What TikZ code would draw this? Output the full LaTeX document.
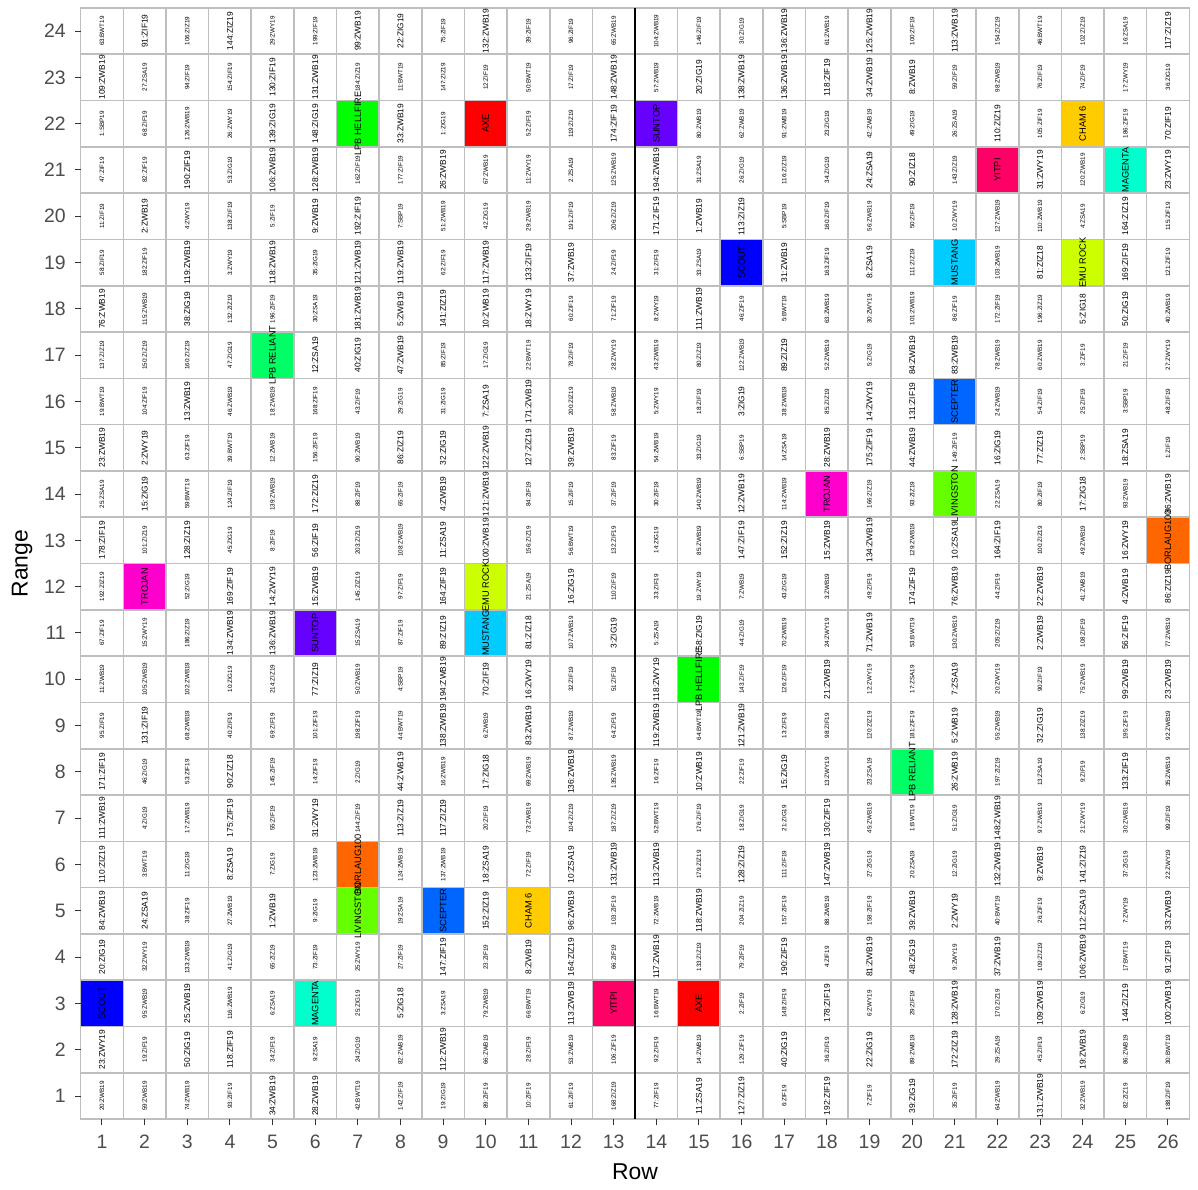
\documentclass[tikz,border=0pt]{standalone}
\usepackage{fontspec}
\setmainfont{Liberation Sans}
\definecolor{tilegrey}{HTML}{BEBEBE}
\definecolor{grey20}{HTML}{333333}
\definecolor{grey30}{HTML}{4D4D4D}
\definecolor{cAXE}{HTML}{FF0000}
\definecolor{cBOR}{HTML}{FF6600}
\definecolor{cCHAM}{HTML}{FFCC00}
\definecolor{cEMU}{HTML}{CCFF00}
\definecolor{cLIV}{HTML}{66FF00}
\definecolor{cHELL}{HTML}{00FF00}
\definecolor{cREL}{HTML}{00FF66}
\definecolor{cMAG}{HTML}{00FFCC}
\definecolor{cMUS}{HTML}{00CCFF}
\definecolor{cSCEP}{HTML}{0066FF}
\definecolor{cSCOUT}{HTML}{0000FF}
\definecolor{cSUN}{HTML}{6600FF}
\definecolor{cTRO}{HTML}{FF00CC}
\definecolor{cYIT}{HTML}{FF0066}
\begin{document}
\begin{tikzpicture}[x=42.64bp, y=46.3bp,
  tile/.style={draw=tilegrey, line width=1.6bp, fill=white},
  lbls/.style={rotate=90, inner sep=0pt, font=\fontsize{6.3}{6}\selectfont},
  lblL/.style={rotate=90, inner sep=0pt, font=\fontsize{8.4}{8}\selectfont},
  lblv/.style={rotate=90, inner sep=0pt, font=\fontsize{9.3}{9}\selectfont},
  tickmark/.style={draw=grey20, line width=1bp},
  ticklab/.style={text=grey30, font=\fontsize{19.5}{20}\selectfont, inner sep=0pt},
  axtitle/.style={font=\fontsize{23}{24}\selectfont, inner sep=0pt}]
\fill[white] (-1.392,-1.0086) rectangle (26.704,24.672);
\useasboundingbox (-1.392,-1.0086) rectangle (26.704,24.672);
% tiles
\foreach \r in {1,...,24}{\foreach \c in {1,...,26}{\path[tile] (\c-0.5,\r-0.5) rectangle (\c+0.5,\r+0.5);}}
\foreach \c/\r/\col in {1/3/cSCOUT,16/19/cSCOUT,2/12/cTRO,18/14/cTRO,5/17/cREL,20/8/cREL,6/11/cSUN,14/22/cSUN,6/3/cMAG,25/21/cMAG,7/22/cHELL,15/10/cHELL,7/5/cLIV,21/14/cLIV,7/6/cBOR,26/13/cBOR,9/5/cSCEP,21/16/cSCEP,10/22/cAXE,15/3/cAXE,10/12/cEMU,24/19/cEMU,10/11/cMUS,21/19/cMUS,11/5/cCHAM,24/22/cCHAM,13/3/cYIT,22/21/cYIT}
  {\path[tile, fill=\col] (\c-0.5,\r-0.5) rectangle (\c+0.5,\r+0.5);}
\draw[line width=2.5bp] (13.5,0.5) -- (13.5,24.5);
% labels
\foreach \sz/\t [count=\c] in {s/63:BWT19, L/91:ZIF19, s/106:ZIZ19, L/144:ZIZ19, s/29:ZWY19, s/199:ZIF19, L/99:ZWB19, L/22:ZIG19, s/75:ZIF19, L/132:ZWB19, s/39:ZIF19, s/96:ZIF19, s/65:ZWB19, s/104:ZWB19, s/146:ZIF19, s/30:ZIG19, L/136:ZWB19, s/61:ZWB19, L/125:ZWB19, s/100:ZIF19, L/113:ZWB19, s/154:ZIZ19, s/46:BWT19, s/102:ZIZ19, s/16:ZSA19, L/117:ZIZ19} \node[lbl\sz] (t\c-24) at (\c,24) {\t};
\foreach \sz/\t [count=\c] in {L/109:ZWB19, s/27:ZSA19, s/94:ZIF19, s/154:ZIF19, L/130:ZIF19, L/131:ZWB19, s/184:ZIZ19, s/11:BWT19, s/147:ZIZ19, s/12:ZIF19, s/50:BWT19, s/17:ZIF19, L/148:ZWB19, s/57:ZWB19, L/20:ZIG19, L/138:ZWB19, L/136:ZWB19, L/118:ZIF19, L/34:ZWB19, L/8:ZWB19, s/59:ZIF19, s/98:ZWB19, s/76:ZIF19, s/74:ZIF19, s/17:ZWY19, s/36:ZIG19} \node[lbl\sz] (t\c-23) at (\c,23) {\t};
\foreach \sz/\t [count=\c] in {s/1:SBP19, s/68:ZIF19, s/126:ZWB19, s/26:ZWY19, L/139:ZIG19, L/148:ZIG19, v/LPB HELLFIRE, L/33:ZWB19, s/1:ZIG19, v/AXE, s/52:ZIF19, s/119:ZIZ19, L/174:ZIF19, v/SUNTOP, s/80:ZWB19, s/62:ZWB19, s/91:ZWB19, s/23:ZIG19, s/42:ZWB19, s/49:ZIG19, s/26:ZSA19, L/110:ZIZ19, s/105:ZIF19, v/CHAM 6, s/186:ZIF19, L/70:ZIF19} \node[lbl\sz] (t\c-22) at (\c,22) {\t};
\foreach \sz/\t [count=\c] in {s/47:ZIF19, s/82:ZIF19, L/190:ZIF19, s/53:ZIG19, L/106:ZWB19, L/128:ZWB19, s/162:ZIF19, s/177:ZIF19, L/26:ZWB19, s/67:ZWB19, s/11:ZWY19, s/2:ZSA19, s/125:ZWB19, L/194:ZWB19, s/31:ZSA19, s/26:ZIG19, s/116:ZIZ19, s/34:ZIG19, L/24:ZSA19, L/90:ZIZ18, s/143:ZIZ19, v/YITPI, L/31:ZWY19, s/120:ZWB19, v/MAGENTA, L/23:ZWY19} \node[lbl\sz] (t\c-21) at (\c,21) {\t};
\foreach \sz/\t [count=\c] in {s/11:ZIF19, L/2:ZWB19, s/4:ZWY19, s/138:ZIF19, s/5:ZIF19, L/9:ZWB19, L/192:ZIF19, s/7:SBP19, s/51:ZWB19, s/42:ZIG19, s/29:ZWB19, s/191:ZIF19, s/206:ZIZ19, L/171:ZIF19, L/1:ZWB19, L/113:ZIZ19, s/5:SBP19, s/160:ZIF19, s/56:ZWB19, s/50:ZIF19, s/10:ZWY19, s/127:ZWB19, s/110:ZWB19, s/4:ZSA19, L/164:ZIZ19, s/115:ZIF19} \node[lbl\sz] (t\c-20) at (\c,20) {\t};
\foreach \sz/\t [count=\c] in {s/58:ZIF19, s/182:ZIF19, L/119:ZWB19, s/3:ZWY19, L/118:ZWB19, s/35:ZIG19, L/121:ZWB19, L/119:ZWB19, s/62:ZIF19, L/117:ZWB19, L/133:ZIF19, L/37:ZWB19, s/24:ZIF19, s/31:ZIF19, s/33:ZSA19, v/SCOUT, L/31:ZWB19, s/163:ZIF19, L/8:ZSA19, s/111:ZIZ19, v/MUSTANG, s/103:ZWB19, L/81:ZIZ18, v/EMU ROCK, L/169:ZIF19, s/121:ZIF19} \node[lbl\sz] (t\c-19) at (\c,19) {\t};
\foreach \sz/\t [count=\c] in {L/76:ZWB19, s/115:ZWB19, L/38:ZIG19, s/132:ZIZ19, s/196:ZIF19, s/30:ZSA19, L/181:ZWB19, L/5:ZWB19, L/141:ZIZ19, L/10:ZWB19, L/18:ZWY19, s/60:ZIF19, s/71:ZIF19, s/8:ZWY19, L/111:ZWB19, s/46:ZIF19, s/5:BWT19, s/63:ZWB19, s/30:ZWY19, s/101:ZWB19, s/86:ZIF19, s/172:ZIF19, s/196:ZIZ19, L/5:ZIG18, L/50:ZIG19, s/40:ZWB19} \node[lbl\sz] (t\c-18) at (\c,18) {\t};
\foreach \sz/\t [count=\c] in {s/137:ZIZ19, s/150:ZIZ19, s/160:ZIZ19, s/47:ZIG19, v/LPB RELIANT, L/12:ZSA19, L/40:ZIG19, L/47:ZWB19, s/85:ZIF19, s/17:ZIG19, s/22:BWT19, s/78:ZIF19, s/28:ZWY19, s/43:ZWB19, s/80:ZIZ19, s/122:ZWB19, L/89:ZIZ19, s/52:ZWB19, s/5:ZIG19, L/84:ZWB19, L/83:ZWB19, s/78:ZWB19, s/60:ZWB19, s/3:ZIF19, s/21:ZIF19, s/27:ZWY19} \node[lbl\sz] (t\c-17) at (\c,17) {\t};
\foreach \sz/\t [count=\c] in {s/19:BWT19, s/104:ZIF19, L/13:ZWB19, s/46:ZWB19, s/18:ZWB19, s/168:ZIF19, s/43:ZIF19, s/29:ZIG19, s/31:ZIG19, L/7:ZSA19, L/171:ZWB19, s/200:ZIZ19, s/58:ZWB19, s/5:ZWY19, s/18:ZIF19, L/3:ZIG19, s/38:ZWB19, s/85:ZIZ19, L/14:ZWY19, L/131:ZIF19, v/SCEPTER, s/24:ZWB19, s/54:ZIF19, s/25:ZIF19, s/3:SBP19, s/48:ZIF19} \node[lbl\sz] (t\c-16) at (\c,16) {\t};
\foreach \sz/\t [count=\c] in {L/23:ZWB19, L/2:ZWY19, s/63:ZIF19, s/39:BWT19, s/12:ZWB19, s/156:ZIF19, s/90:ZWB19, L/86:ZIZ19, L/32:ZIG19, L/122:ZWB19, L/127:ZIZ19, L/39:ZWB19, s/83:ZIF19, s/54:ZWB19, s/33:ZIG19, s/6:SBP19, s/14:ZSA19, L/28:ZWB19, L/175:ZIF19, L/44:ZWB19, s/149:ZIF19, L/16:ZIG19, L/77:ZIZ19, s/2:SBP19, L/18:ZSA19, s/1:ZIF19} \node[lbl\sz] (t\c-15) at (\c,15) {\t};
\foreach \sz/\t [count=\c] in {s/25:ZSA19, L/15:ZIG19, s/59:BWT19, s/124:ZIF19, s/139:ZWB19, L/172:ZIZ19, s/88:ZIF19, s/65:ZIF19, L/4:ZWB19, L/121:ZWB19, s/84:ZIF19, s/15:ZIF19, s/37:ZIF19, s/30:ZIF19, s/140:ZWB19, L/12:ZWB19, s/114:ZWB19, v/TROJAN, s/166:ZIZ19, s/93:ZIZ19, v/LIVINGSTON, s/22:ZSA19, s/80:ZIF19, L/17:ZIG18, s/93:ZWB19, L/86:ZWB19} \node[lbl\sz] (t\c-14) at (\c,14) {\t};
\foreach \sz/\t [count=\c] in {L/178:ZIF19, s/101:ZIZ19, L/128:ZIZ19, s/45:ZIG19, s/8:ZIF19, L/56:ZIF19, s/203:ZIZ19, s/108:ZWB19, L/11:ZSA19, L/100:ZWB19, s/156:ZIZ19, s/56:BWT19, s/132:ZIF19, s/14:ZIG19, s/85:ZWB19, L/147:ZIF19, L/152:ZIZ19, L/15:ZWB19, L/134:ZWB19, s/129:ZWB19, L/10:ZSA19, L/164:ZIF19, s/100:ZIZ19, s/49:ZWB19, L/16:ZWY19, v/BORLAUG100} \node[lbl\sz] (t\c-13) at (\c,13) {\t};
\foreach \sz/\t [count=\c] in {s/192:ZIZ19, v/TROJAN, s/52:ZIG19, L/169:ZIF19, L/14:ZWY19, L/15:ZWB19, s/145:ZIZ19, s/97:ZIF19, L/164:ZIF19, v/EMU ROCK, s/21:ZSA19, L/16:ZIG19, s/110:ZIF19, s/33:ZIF19, s/19:ZWY19, s/7:ZWB19, s/43:ZIG19, s/3:ZWB19, s/49:ZIF19, L/174:ZIF19, L/76:ZWB19, s/44:ZIF19, L/22:ZWB19, s/41:ZWB19, L/4:ZWB19, L/86:ZIZ19} \node[lbl\sz] (t\c-12) at (\c,12) {\t};
\foreach \sz/\t [count=\c] in {s/67:ZIF19, s/15:ZWY19, s/186:ZIZ19, L/134:ZWB19, L/136:ZWB19, v/SUNTOP, s/15:ZSA19, s/87:ZIF19, L/89:ZIZ19, v/MUSTANG, L/81:ZIZ18, s/107:ZWB19, L/3:ZIG19, s/5:ZSA19, L/58:ZIG19, s/44:ZIG19, s/70:ZWB19, s/24:ZWY19, L/71:ZWB19, s/53:BWT19, s/130:ZWB19, s/205:ZIZ19, L/2:ZWB19, s/108:ZIF19, L/56:ZIF19, s/77:ZWB19} \node[lbl\sz] (t\c-11) at (\c,11) {\t};
\foreach \sz/\t [count=\c] in {s/11:ZWB19, s/105:ZWB19, s/102:ZWB19, s/10:ZIG19, s/214:ZIZ19, L/77:ZIZ19, s/50:ZWB19, s/4:SBP19, L/194:ZWB19, L/70:ZIF19, L/16:ZWY19, s/32:ZIF19, s/51:ZIF19, L/118:ZWY19, v/LPB HELLFIRE, s/143:ZIF19, s/126:ZIF19, L/21:ZWB19, s/12:ZWY19, s/17:ZSA19, L/7:ZSA19, s/20:ZWY19, s/90:ZIF19, s/75:ZWB19, L/99:ZWB19, L/23:ZWB19} \node[lbl\sz] (t\c-10) at (\c,10) {\t};
\foreach \sz/\t [count=\c] in {s/95:ZIF19, L/131:ZIF19, s/68:ZWB19, s/40:ZIF19, s/69:ZIF19, s/101:ZIF19, s/198:ZIF19, s/44:BWT19, L/138:ZWB19, s/6:ZWB19, L/83:ZWB19, s/87:ZWB19, s/64:ZIF19, L/119:ZWB19, s/64:BWT19, L/121:ZWB19, s/13:ZIF19, s/98:ZIF19, s/120:ZIZ19, s/181:ZIF19, L/5:ZWB19, s/55:ZWB19, L/32:ZIG19, s/138:ZIZ19, s/195:ZIF19, s/92:ZWB19} \node[lbl\sz] (t\c-9) at (\c,9) {\t};
\foreach \sz/\t [count=\c] in {L/171:ZIF19, s/46:ZIG19, s/53:ZIF19, L/90:ZIZ18, s/145:ZIF19, s/14:ZIF19, s/2:ZIG19, L/44:ZWB19, s/16:ZWB19, L/17:ZIG18, s/69:ZWB19, L/136:ZWB19, s/135:ZWB19, s/16:ZIF19, L/10:ZWB19, s/22:ZIF19, L/15:ZIG19, s/13:ZWY19, s/23:ZSA19, v/LPB RELIANT, L/26:ZWB19, s/197:ZIZ19, s/13:ZSA19, s/9:ZIF19, L/133:ZIF19, s/35:ZWB19} \node[lbl\sz] (t\c-8) at (\c,8) {\t};
\foreach \sz/\t [count=\c] in {L/111:ZWB19, s/4:ZIG19, s/17:ZWB19, L/175:ZIF19, s/55:ZIF19, L/31:ZWY19, s/144:ZIF19, L/113:ZIZ19, L/117:ZIZ19, s/20:ZIF19, s/73:ZWB19, s/104:ZIZ19, s/187:ZIZ19, s/52:BWT19, s/176:ZIF19, s/18:ZIG19, s/21:ZIG19, L/130:ZIF19, s/45:ZWB19, s/1:BWT19, s/51:ZIG19, L/148:ZWB19, s/97:ZWB19, s/21:ZWY19, s/30:ZWB19, s/99:ZIF19} \node[lbl\sz] (t\c-7) at (\c,7) {\t};
\foreach \sz/\t [count=\c] in {L/110:ZIZ19, s/3:BWT19, s/11:ZIG19, L/8:ZSA19, s/7:ZIG19, s/123:ZWB19, v/BORLAUG100, s/124:ZWB19, s/137:ZWB19, L/18:ZSA19, s/72:ZIF19, L/10:ZSA19, L/131:ZWB19, L/113:ZWB19, s/179:ZIZ19, L/128:ZIZ19, s/111:ZIF19, L/147:ZWB19, s/27:ZIG19, s/20:ZSA19, s/12:ZIG19, L/132:ZWB19, L/9:ZWB19, L/141:ZIZ19, s/37:ZIG19, s/22:ZWY19} \node[lbl\sz] (t\c-6) at (\c,6) {\t};
\foreach \sz/\t [count=\c] in {L/84:ZWB19, L/24:ZSA19, s/38:ZIF19, s/27:ZWB19, L/1:ZWB19, s/9:ZIG19, v/LIVINGSTON, s/19:ZSA19, v/SCEPTER, L/152:ZIZ19, v/CHAM 6, L/96:ZWB19, s/103:ZIF19, s/72:ZWB19, L/118:ZWB19, s/204:ZIZ19, s/157:ZIF19, s/88:ZWB19, s/158:ZIF19, L/39:ZWB19, L/2:ZWY19, s/40:BWT19, s/26:ZIF19, L/112:ZSA19, s/7:ZWY19, L/33:ZWB19} \node[lbl\sz] (t\c-5) at (\c,5) {\t};
\foreach \sz/\t [count=\c] in {L/20:ZIG19, s/32:ZWY19, s/133:ZWB19, s/41:ZIG19, s/65:ZIZ19, s/73:ZIF19, s/25:ZWY19, s/27:ZIF19, L/147:ZIF19, s/23:ZIF19, L/8:ZWB19, L/164:ZIZ19, s/66:ZIF19, L/117:ZWB19, s/133:ZIZ19, s/79:ZIF19, L/190:ZIF19, s/4:ZIF19, L/81:ZWB19, L/48:ZIG19, s/9:ZWY19, L/37:ZWB19, s/109:ZIZ19, L/106:ZWB19, s/17:BWT19, L/91:ZIF19} \node[lbl\sz] (t\c-4) at (\c,4) {\t};
\foreach \sz/\t [count=\c] in {v/SCOUT, s/95:ZWB19, L/25:ZWB19, s/116:ZWB19, s/6:ZSA19, v/MAGENTA, s/25:ZIG19, L/5:ZIG18, s/3:ZSA19, s/79:ZWB19, s/66:BWT19, L/113:ZWB19, v/YITPI, s/16:BWT19, v/AXE, s/2:ZIF19, s/148:ZIF19, L/178:ZIF19, s/6:ZWY19, s/29:ZIF19, L/128:ZWB19, s/170:ZIZ19, L/109:ZWB19, s/6:ZIG19, L/144:ZIZ19, L/100:ZWB19} \node[lbl\sz] (t\c-3) at (\c,3) {\t};
\foreach \sz/\t [count=\c] in {L/23:ZWY19, s/19:ZIF19, L/50:ZIG19, L/118:ZIF19, s/34:ZIF19, s/9:ZSA19, s/24:ZIG19, s/82:ZWB19, L/112:ZWB19, s/66:ZWB19, s/28:ZIF19, s/53:ZWB19, s/106:ZIF19, s/92:ZIF19, s/14:ZWB19, s/129:ZIF19, L/40:ZIG19, s/36:ZIF19, L/22:ZIG19, s/89:ZWB19, L/172:ZIZ19, s/29:ZSA19, s/45:ZIF19, L/19:ZWB19, s/86:ZWB19, s/30:BWT19} \node[lbl\sz] (t\c-2) at (\c,2) {\t};
\foreach \sz/\t [count=\c] in {s/20:ZWB19, s/59:ZWB19, s/74:ZWB19, s/93:ZIF19, L/34:ZWB19, L/28:ZWB19, s/42:BWT19, s/142:ZIF19, s/19:ZIG19, s/89:ZIF19, s/10:ZIF19, s/61:ZIF19, s/168:ZIZ19, s/77:ZIF19, L/11:ZSA19, L/127:ZIZ19, s/6:ZIF19, L/192:ZIF19, s/7:ZIF19, L/39:ZIG19, s/35:ZIF19, s/64:ZWB19, L/131:ZWB19, s/32:ZWB19, s/82:ZIZ19, s/188:ZIF19} \node[lbl\sz] (t\c-1) at (\c,1) {\t};
% axes
\foreach \r in {1,...,24}{
  \draw[tickmark] (0.5,\r) -- ++(-6bp,0);
  \node[ticklab, anchor=east] (yl\r) at ([xshift=-14.7bp]0.5,\r) {\r};}
\foreach \c in {1,...,26}{
  \draw[tickmark] (\c,0.5) -- ++(0,-6bp);
  \node[ticklab] (xl\c) at (\c,0.0065) {\c};}
\node[axtitle] (xt) at (13.5,-0.641) {Row};
\node[axtitle, rotate=90] (yt) at (-0.876,12.5) {Range};
\end{tikzpicture}
\end{document}
